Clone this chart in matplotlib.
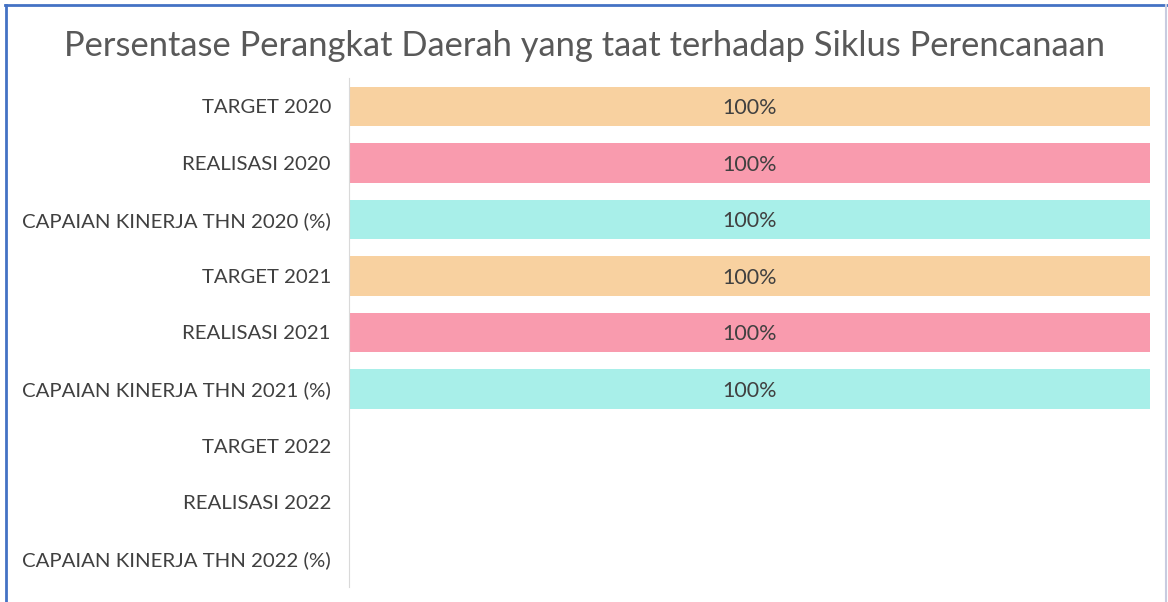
import numpy as np
import matplotlib.pyplot as plt

plt.rcParams['font.family'] = ['Lato', 'DejaVu Sans']

categories = ['TARGET 2020', 'REALISASI 2020', 'CAPAIAN KINERJA THN 2020 (%)',
              'TARGET 2021', 'REALISASI 2021', 'CAPAIAN KINERJA THN 2021 (%)',
              'TARGET 2022', 'REALISASI 2022', 'CAPAIAN KINERJA THN 2022 (%)']
values = [100, 100, 100, 100, 100, 100, np.nan, np.nan, np.nan]
colors = ['#F8D1A0', '#F99BAE', '#A8EFE9'] * 3

fig = plt.figure(figsize=(11.68, 6.02), dpi=100)
ax = fig.add_axes([0.2988, 0.025, 0.6858, 0.8454])

y = np.arange(len(categories))
bars = ax.barh(y, values, height=0.7, color=colors)
for b, v in zip(bars, values):
    if not np.isnan(v):
        ax.text(50, b.get_y() + b.get_height() / 2 + 0.03, '%d%%' % v,
                ha='center', va='center', fontsize=15.5, color='#404040')

ax.set_xlim(0, 100)
ax.set_ylim(len(categories) - 0.5, -0.5)
ax.set_yticks(y)
ax.set_yticklabels(categories, fontsize=14.7, color='#404040')
ax.tick_params(axis='y', length=0, pad=13)
ax.set_xticks([])
for s in ['top', 'right', 'bottom']:
    ax.spines[s].set_visible(False)
ax.spines['left'].set_color('#D9D9D9')

fig.text(0.5, 0.924, 'Persentase Perangkat Daerah yang taat terhadap Siklus Perencanaan',
         ha='center', va='center', fontsize=24.8, color='#595959')

# frame around the chart
fig.add_artist(plt.Line2D([0.005, 0.005], [0, 0.992], color='#4472C4', lw=2))
fig.add_artist(plt.Line2D([0.004, 0.999], [0.992, 0.992], color='#4472C4', lw=2))
fig.add_artist(plt.Line2D([0.9985, 0.9985], [0, 0.992], color='#C8CCE0', lw=1.5))

fig.savefig('out.png', dpi=100)
